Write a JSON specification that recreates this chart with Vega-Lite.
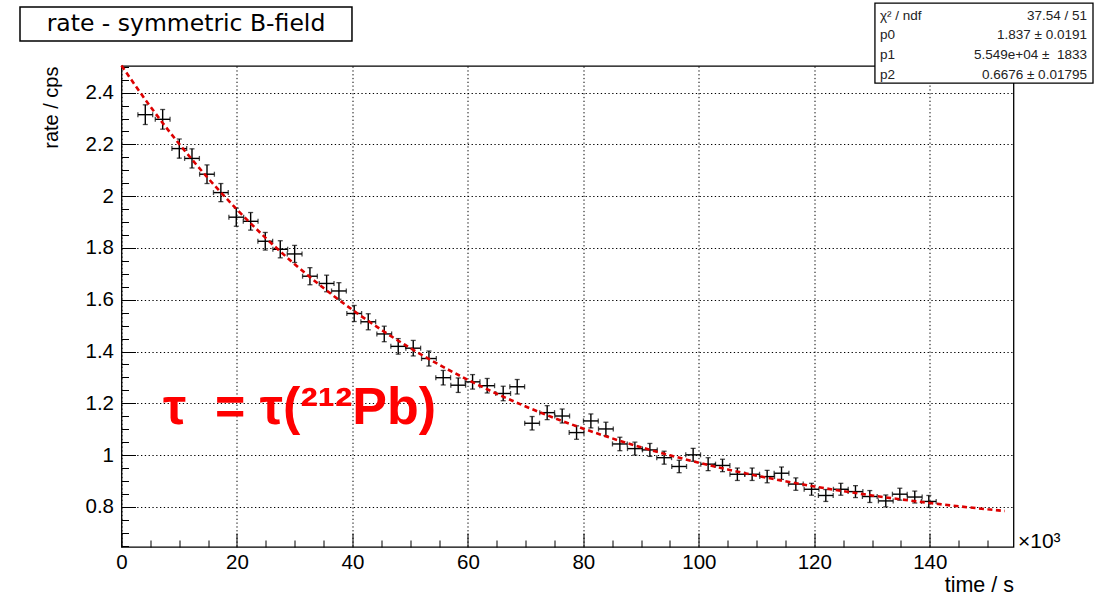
{
  "$schema": "https://vega.github.io/schema/vega-lite/v6.json",
  "width": 892,
  "height": 481,
  "autosize": "none",
  "padding": {"left": 121.5, "top": 66, "right": 89.5, "bottom": 48},
  "background": "white",
  "config": {
    "view": {"stroke": "black", "strokeWidth": 1.3},
    "font": "Liberation Sans"
  },
  "resolve": {"axis": {"x": "independent", "y": "independent"}},
  "datasets": {
    "one": [{"k": 1}],
    "pts": [
      {"t": 4.12, "r": 2.315, "dr": 0.038, "dt": 1.28},
      {"t": 7.13, "r": 2.297, "dr": 0.038, "dt": 1.28},
      {"t": 10.01, "r": 2.184, "dr": 0.037, "dt": 1.28},
      {"t": 12.21, "r": 2.146, "dr": 0.037, "dt": 1.28},
      {"t": 14.81, "r": 2.085, "dr": 0.036, "dt": 1.28},
      {"t": 17.21, "r": 2.014, "dr": 0.035, "dt": 1.28},
      {"t": 19.88, "r": 1.919, "dr": 0.035, "dt": 1.28},
      {"t": 22.37, "r": 1.903, "dr": 0.034, "dt": 1.28},
      {"t": 24.9, "r": 1.826, "dr": 0.034, "dt": 1.28},
      {"t": 27.5, "r": 1.795, "dr": 0.033, "dt": 1.28},
      {"t": 29.99, "r": 1.777, "dr": 0.033, "dt": 1.28},
      {"t": 32.64, "r": 1.691, "dr": 0.033, "dt": 1.28},
      {"t": 35.53, "r": 1.663, "dr": 0.032, "dt": 1.28},
      {"t": 37.66, "r": 1.634, "dr": 0.032, "dt": 1.28},
      {"t": 40.31, "r": 1.547, "dr": 0.031, "dt": 1.28},
      {"t": 42.74, "r": 1.515, "dr": 0.031, "dt": 1.28},
      {"t": 45.51, "r": 1.468, "dr": 0.03, "dt": 1.28},
      {"t": 47.93, "r": 1.42, "dr": 0.03, "dt": 1.28},
      {"t": 50.53, "r": 1.413, "dr": 0.03, "dt": 1.28},
      {"t": 53.25, "r": 1.373, "dr": 0.029, "dt": 1.28},
      {"t": 55.72, "r": 1.299, "dr": 0.028, "dt": 1.28},
      {"t": 58.32, "r": 1.27, "dr": 0.028, "dt": 1.28},
      {"t": 60.81, "r": 1.283, "dr": 0.028, "dt": 1.28},
      {"t": 63.34, "r": 1.268, "dr": 0.028, "dt": 1.28},
      {"t": 66.11, "r": 1.238, "dr": 0.028, "dt": 1.28},
      {"t": 68.54, "r": 1.264, "dr": 0.028, "dt": 1.28},
      {"t": 71.12, "r": 1.123, "dr": 0.026, "dt": 1.28},
      {"t": 73.73, "r": 1.164, "dr": 0.027, "dt": 1.28},
      {"t": 76.33, "r": 1.151, "dr": 0.027, "dt": 1.28},
      {"t": 78.82, "r": 1.087, "dr": 0.026, "dt": 1.28},
      {"t": 81.3, "r": 1.132, "dr": 0.027, "dt": 1.28},
      {"t": 83.9, "r": 1.101, "dr": 0.026, "dt": 1.28},
      {"t": 86.32, "r": 1.043, "dr": 0.026, "dt": 1.28},
      {"t": 88.92, "r": 1.025, "dr": 0.025, "dt": 1.28},
      {"t": 91.52, "r": 1.02, "dr": 0.025, "dt": 1.28},
      {"t": 93.99, "r": 0.99, "dr": 0.025, "dt": 1.28},
      {"t": 96.59, "r": 0.956, "dr": 0.024, "dt": 1.28},
      {"t": 99.01, "r": 1.001, "dr": 0.025, "dt": 1.28},
      {"t": 101.61, "r": 0.965, "dr": 0.025, "dt": 1.28},
      {"t": 104.1, "r": 0.96, "dr": 0.024, "dt": 1.28},
      {"t": 106.67, "r": 0.926, "dr": 0.024, "dt": 1.28},
      {"t": 109.23, "r": 0.926, "dr": 0.024, "dt": 1.28},
      {"t": 111.83, "r": 0.917, "dr": 0.024, "dt": 1.28},
      {"t": 114.32, "r": 0.93, "dr": 0.024, "dt": 1.28},
      {"t": 116.8, "r": 0.888, "dr": 0.024, "dt": 1.28},
      {"t": 119.52, "r": 0.868, "dr": 0.023, "dt": 1.28},
      {"t": 121.99, "r": 0.844, "dr": 0.023, "dt": 1.28},
      {"t": 124.59, "r": 0.868, "dr": 0.023, "dt": 1.28},
      {"t": 127.13, "r": 0.859, "dr": 0.023, "dt": 1.28},
      {"t": 129.61, "r": 0.84, "dr": 0.023, "dt": 1.28},
      {"t": 132.38, "r": 0.823, "dr": 0.023, "dt": 1.28},
      {"t": 134.81, "r": 0.849, "dr": 0.023, "dt": 1.28},
      {"t": 137.4, "r": 0.838, "dr": 0.023, "dt": 1.28},
      {"t": 139.83, "r": 0.821, "dr": 0.023, "dt": 1.28}
    ],
    "fit": [
      {"t": 0, "r": 2.5046}, {"t": 5, "r": 2.3463}, {"t": 10, "r": 2.2017},
      {"t": 15, "r": 2.0695}, {"t": 20, "r": 1.9487}, {"t": 25, "r": 1.8383},
      {"t": 30, "r": 1.7374}, {"t": 35, "r": 1.6452}, {"t": 40, "r": 1.561},
      {"t": 45, "r": 1.484}, {"t": 50, "r": 1.4137}, {"t": 55, "r": 1.3494},
      {"t": 60, "r": 1.2906}, {"t": 65, "r": 1.2369}, {"t": 70, "r": 1.1879},
      {"t": 75, "r": 1.1431}, {"t": 80, "r": 1.1021}, {"t": 85, "r": 1.0646},
      {"t": 90, "r": 1.0304}, {"t": 95, "r": 0.9992}, {"t": 100, "r": 0.9706},
      {"t": 105, "r": 0.9445}, {"t": 110, "r": 0.9206}, {"t": 115, "r": 0.8988},
      {"t": 120, "r": 0.8789}, {"t": 125, "r": 0.8607}, {"t": 130, "r": 0.8441},
      {"t": 135, "r": 0.8289}, {"t": 140, "r": 0.815}, {"t": 145, "r": 0.8023},
      {"t": 150, "r": 0.7907}, {"t": 153, "r": 0.7842}
    ]
  },
  "layer": [
    {
      "encoding": {
        "x": {
          "field": "t",
          "type": "quantitative",
          "scale": {"domain": [0, 154.5], "nice": false, "zero": false},
          "axis": {
            "orient": "bottom",
            "values": [0, 5, 10, 15, 20, 25, 30, 35, 40, 45, 50, 55, 60, 65, 70, 75, 80, 85, 90, 95, 100, 105, 110, 115, 120, 125, 130, 135, 140, 145, 150],
            "labelExpr": "datum.value % 20 === 0 ? format(datum.value, 'd') : ''",
            "labelOverlap": false,
            "labelFlush": false,
            "labelBound": false,
            "labelFont": "Liberation Sans",
            "labelFontSize": 20.5,
            "labelColor": "black",
            "labelPadding": 19,
            "domain": false,
            "tickColor": "black",
            "tickWidth": 1,
            "tickSize": {"condition": {"test": "datum.value % 20 === 0", "value": -14}, "value": -7},
            "grid": true,
            "gridColor": "black",
            "gridWidth": 1,
            "gridDash": [1.3, 2.5],
            "gridOpacity": {"condition": {"test": "datum.value % 20 === 0", "value": 1}, "value": 0},
            "title": "time / s",
            "titleAnchor": "end",
            "titleAlign": "right",
            "titleFont": "Liberation Sans",
            "titleFontSize": 21.5,
            "titleFontWeight": "normal",
            "titleColor": "black",
            "titleBaseline": "alphabetic",
            "titleY": 44
          }
        },
        "y": {
          "field": "r",
          "type": "quantitative",
          "scale": {"domain": [0.645, 2.503], "nice": false, "zero": false},
          "axis": {
            "orient": "left",
            "values": [0.65, 0.7, 0.75, 0.8, 0.85, 0.9, 0.95, 1, 1.05, 1.1, 1.15, 1.2, 1.25, 1.3, 1.35, 1.4, 1.45, 1.5, 1.55, 1.6, 1.65, 1.7, 1.75, 1.8, 1.85, 1.9, 1.95, 2, 2.05, 2.1, 2.15, 2.2, 2.25, 2.3, 2.35, 2.4, 2.45, 2.5],
            "labelExpr": "abs(datum.value * 5 - round(datum.value * 5)) < 0.001 ? format(datum.value, '~g') : ''",
            "labelOverlap": false,
            "labelFlush": false,
            "labelBound": false,
            "labelFont": "Liberation Sans",
            "labelFontSize": 20.5,
            "labelColor": "black",
            "labelPadding": 22,
            "domain": false,
            "tickColor": "black",
            "tickWidth": 1,
            "tickSize": {"condition": {"test": "abs(datum.value * 5 - round(datum.value * 5)) < 0.001", "value": -14}, "value": -7},
            "grid": true,
            "gridColor": "black",
            "gridWidth": 1,
            "gridDash": [1.3, 2.5],
            "gridOpacity": {"condition": {"test": "abs(datum.value * 5 - round(datum.value * 5)) < 0.001", "value": 1}, "value": 0},
            "title": "rate / cps",
            "titleAnchor": "end",
            "titleFont": "Liberation Sans",
            "titleFontSize": 20,
            "titleFontWeight": "normal",
            "titleColor": "black",
            "titlePadding": 24
          }
        }
      },
      "layer": [
        {
          "data": {"name": "pts"},
          "mark": {"type": "errorbar", "color": "black", "ticks": {"size": 5, "thickness": 1.3, "color": "black"}, "rule": {"strokeWidth": 1.4}},
          "encoding": {"yError": {"field": "dr"}}
        },
        {
          "data": {"name": "pts"},
          "mark": {"type": "errorbar", "color": "black", "ticks": {"size": 5, "thickness": 1.3, "color": "black"}, "rule": {"strokeWidth": 1.4}},
          "encoding": {"xError": {"field": "dt"}}
        },
        {
          "data": {"name": "fit"},
          "mark": {"type": "line", "color": "#dd0000", "strokeWidth": 2.6, "strokeDash": [5, 3.5], "interpolate": "monotone"}
        }
      ]
    },
    {
      "data": {"name": "one"},
      "mark": {"type": "text", "text": "τ\u00a0 = τ(²¹²Pb)", "font": "Liberation Sans", "fontSize": 52, "fontWeight": "bold", "color": "#ff0000", "align": "left", "baseline": "alphabetic"},
      "encoding": {"x": {"datum": 7.18, "type": "quantitative", "axis": null}, "y": {"datum": 1.12, "type": "quantitative", "axis": null}}
    },
    {
      "data": {"name": "one"},
      "mark": {"type": "text", "text": "×10³", "font": "Liberation Sans", "fontSize": 21, "color": "black", "align": "left", "baseline": "alphabetic"},
      "encoding": {"x": {"datum": 155.27, "type": "quantitative", "axis": null}, "y": {"datum": 0.641, "type": "quantitative", "axis": null}}
    },
    {
      "data": {"name": "one"},
      "mark": {"type": "rect", "fill": "white", "stroke": "black", "strokeWidth": 1.5},
      "encoding": {"x": {"datum": -17.58, "type": "quantitative", "axis": null}, "x2": {"datum": 39.92}, "y": {"datum": 2.731, "type": "quantitative", "axis": null}, "y2": {"datum": 2.6}}
    },
    {
      "data": {"name": "one"},
      "mark": {"type": "text", "text": "rate - symmetric B-field", "font": "DejaVu Sans", "fontSize": 23.5, "color": "black", "align": "center", "baseline": "middle"},
      "encoding": {"x": {"datum": 11.17, "type": "quantitative", "axis": null}, "y": {"datum": 2.665, "type": "quantitative", "axis": null}}
    },
    {
      "data": {"name": "one"},
      "mark": {"type": "rect", "fill": "white", "stroke": "black", "strokeWidth": 1.3},
      "encoding": {"x": {"datum": 130.5, "type": "quantitative", "axis": null}, "x2": {"datum": 168.27}, "y": {"datum": 2.746, "type": "quantitative", "axis": null}, "y2": {"datum": 2.437}}
    },
    {
      "data": {"name": "one"},
      "mark": {"type": "text", "text": ["χ² / ndf", "p0", "p1", "p2"], "lineHeight": 19.7, "font": "Liberation Sans", "fontSize": 13.5, "color": "#222222", "align": "left", "baseline": "alphabetic"},
      "encoding": {"x": {"datum": 131.37, "type": "quantitative", "axis": null}, "y": {"datum": 2.6826, "type": "quantitative", "axis": null}}
    },
    {
      "data": {"name": "one"},
      "mark": {"type": "text", "text": ["37.54 / 51", "1.837 ± 0.0191", "5.549e+04 ±\u00a0 1833", "0.6676 ± 0.01795"], "lineHeight": 19.7, "font": "Liberation Sans", "fontSize": 13.5, "color": "#222222", "align": "right", "baseline": "alphabetic"},
      "encoding": {"x": {"datum": 167.22, "type": "quantitative", "axis": null}, "y": {"datum": 2.6826, "type": "quantitative", "axis": null}}
    }
  ]
}
